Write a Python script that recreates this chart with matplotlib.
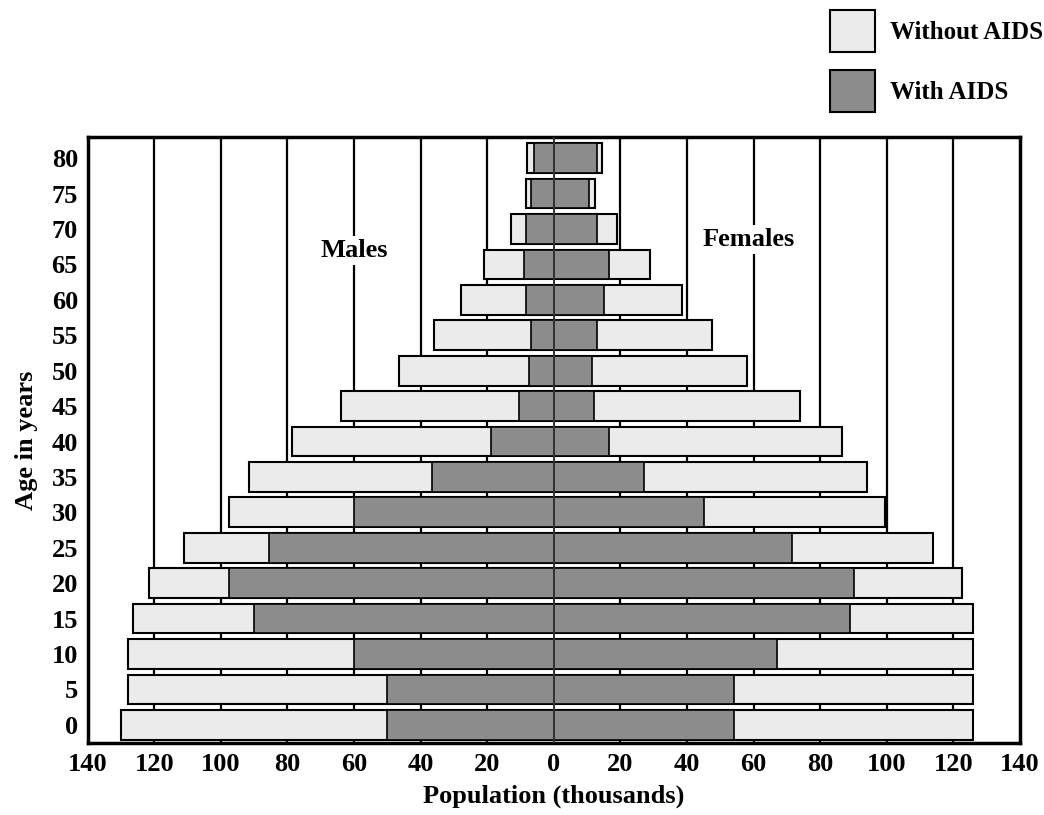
import numpy as np
import matplotlib
matplotlib.use("Agg")
from matplotlib import pyplot as plt
from matplotlib.patches import Patch

ages = [0, 5, 10, 15, 20, 25, 30, 35, 40, 45, 50, 55, 60, 65, 70, 75, 80]

# thousands
male_without = [130, 128, 128, 126.5, 121.5, 111, 97.5, 91.5, 78.5, 64, 46.5, 36, 28, 21, 13, 8.5, 8]
male_with = [50, 50, 60, 90, 97.5, 85.5, 60, 36.5, 19, 10.5, 7.5, 7, 8.5, 9, 8.5, 7, 6]
female_without = [126, 126, 126, 126, 122.5, 114, 99.5, 94, 86.5, 74, 58, 47.5, 38.5, 29, 19, 12.5, 14.5]
female_with = [54, 54, 67, 89, 90, 71.5, 45, 27, 16.5, 12, 11.5, 13, 15, 16.5, 13, 10.5, 13]

xticks = [-140, -120, -100, -80, -60, -40, -20, 0, 20, 40, 60, 80, 100, 120, 140]

plt.rcParams['font.family'] = ['Liberation Serif', 'DejaVu Serif']
plt.rcParams['font.weight'] = 'bold'

light = '#ebebeb'
dark = '#8c8c8c'
fs = 19

fig = plt.figure(figsize=(10.44, 8.15), dpi=100)
ax = fig.add_axes([0.084, 0.088, 0.893, 0.744])

y = np.array(ages)
h = 4.2

ax.barh(y, -np.array(male_without), height=h, color=light, edgecolor='black', lw=1.5, zorder=2)
ax.barh(y, -np.array(male_with), height=h, color=dark, edgecolor='black', lw=1.2, zorder=3)
ax.barh(y, female_without, height=h, color=light, edgecolor='black', lw=1.5, zorder=2)
ax.barh(y, female_with, height=h, color=dark, edgecolor='black', lw=1.2, zorder=3)

for v in xticks[1:-1]:
    if v != 0:
        ax.axvline(v, color='black', lw=1.6, zorder=1)
ax.axvline(0, color='#333333', lw=1.4, zorder=4)

ax.set_xlim(-140, 140)
ax.set_ylim(-2.6, 83)
ax.set_xticks(xticks)
ax.set_xticklabels([str(abs(v)) for v in xticks])
ax.set_yticks(ages)
ax.tick_params(length=0, labelsize=fs, pad=7)
for s in ax.spines.values():
    s.set_linewidth(2.5)

ax.set_xlabel('Population (thousands)', fontsize=fs, fontweight='bold', labelpad=6)
ax.set_ylabel('Age in years', fontsize=fs, fontweight='bold', labelpad=10)

ax.text(-60, 67, 'Males', fontsize=fs, fontweight='bold', ha='center', va='center',
        zorder=5, bbox=dict(facecolor='white', edgecolor='none', pad=2))
ax.text(58.5, 68.5, 'Females', fontsize=fs, fontweight='bold', ha='center', va='center',
        zorder=5, bbox=dict(facecolor='white', edgecolor='none', pad=2))

handles = [Patch(facecolor=light, edgecolor='black', lw=1.5, label='Without AIDS'),
           Patch(facecolor=dark, edgecolor='black', lw=1.5, label='With AIDS')]
fig.legend(handles=handles, loc='upper left', bbox_to_anchor=(0.795, 0.988), frameon=False,
           fontsize=18, handlelength=1.8, handleheight=2.2, labelspacing=0.75,
           handletextpad=0.6, borderaxespad=0, borderpad=0)

fig.savefig('out.png', dpi=100)
